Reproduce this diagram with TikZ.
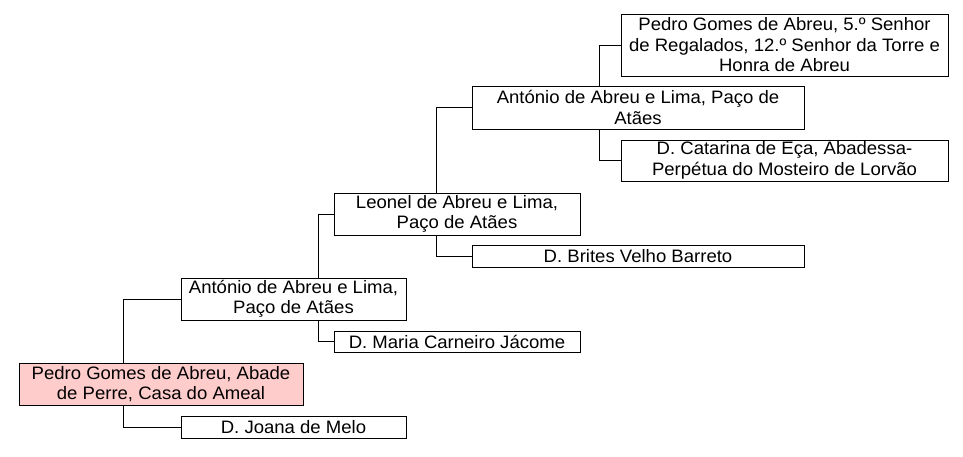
\documentclass[tikz,border=0pt]{standalone}
\usepackage{fontspec}
\setmainfont[FakeStretch=1.03]{Liberation Sans}
\definecolor{rootpink}{HTML}{FFCCCC}
\begin{document}
\begin{tikzpicture}[x=1pt,y=-1pt,
 person/.style={draw,line width=0.9pt,inner sep=0pt,align=center,
   font=\fontsize{18}{20.5}\selectfont},
 rootperson/.style={person,fill=rootpink},
 link/.style={line width=0.9pt}]
 \useasboundingbox (0,0) rectangle (963,456);
 % generation 0
 \node[rootperson,minimum width=284,minimum height=42] (pedro) at (161,384) {Pedro Gomes de Abreu, Abade\\de Perre, Casa do Ameal};
 % generation 1
 \node[person,minimum width=225,minimum height=42] (antonio) at (293.5,299) {António de Abreu e Lima,\\Paço de Atães};
 \node[person,minimum width=225,minimum height=22] (joana) at (293.5,427) {D. Joana de Melo};
 % generation 2
 \node[person,minimum width=246,minimum height=42] (leonel) at (457,214) {Leonel de Abreu e Lima,\\Paço de Atães};
 \node[person,minimum width=246,minimum height=21] (maria) at (457,341.5) {D. Maria Carneiro Jácome};
 % generation 3
 \node[person,minimum width=332,minimum height=43] (antoniob) at (638,107.5) {António de Abreu e Lima, Paço de\\Atães};
 \node[person,minimum width=332,minimum height=22] (brites) at (638,256) {D. Brites Velho Barreto};
 % generation 4
 \node[person,minimum width=327,minimum height=62] (pedrob) at (784.5,45) {Pedro Gomes de Abreu, 5.º Senhor\\de Regalados, 12.º Senhor da Torre e\\Honra de Abreu};
 \node[person,minimum width=327,minimum height=41] (catarina) at (784.5,160.5) {D. Catarina de Eça, Abadessa-\\Perpétua do Mosteiro de Lorvão};
 % links
 \draw[link] ([xshift=105pt]pedro.north west) |- (antonio.west);
 \draw[link] ([xshift=105pt]pedro.south west) |- (joana.west);
 \draw[link] ([xshift=138pt]antonio.north west) |- (leonel.west);
 \draw[link] ([xshift=138pt]antonio.south west) |- (maria.west);
 \draw[link] ([xshift=103pt]leonel.north west) |- (antoniob.west);
 \draw[link] ([xshift=103pt]leonel.south west) |- (brites.west);
 \draw[link] ([xshift=128pt]antoniob.north west) |- (pedrob.west);
 \draw[link] ([xshift=128pt]antoniob.south west) |- (catarina.west);
\end{tikzpicture}
\end{document}
